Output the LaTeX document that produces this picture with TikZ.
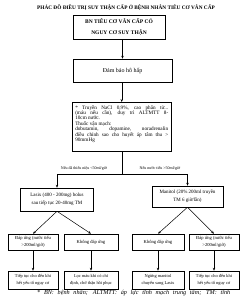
\documentclass[tikz,border=0pt]{standalone}
\usepackage{fontspec}
\setmainfont{Liberation Serif}
\usetikzlibrary{arrows.meta}
\begin{document}
\begin{tikzpicture}[x=1pt,y=-1pt,
  box/.style={draw=black, line width=0.5pt, inner sep=0pt, align=center},
  arr/.style={line width=0.5pt, -{Stealth[length=3pt,width=2.4pt]}},
  ln/.style={line width=0.5pt},
  lbl/.style={inner sep=0pt, font=\fontsize{4}{4.5}\selectfont},
  rowa/.style={box, minimum height=16pt, font=\fontsize{4.6}{7}\selectfont},
  rowb/.style={box, minimum height=18pt, font=\fontsize{4.4}{6.5}\selectfont}]
\fill[white] (0,0) rectangle (245,299);
\useasboundingbox (0,0) rectangle (245,299);

\node[inner sep=0pt, font=\bfseries\fontsize{5.3}{6}\selectfont] (title) at (126,7.5)
  {PHÁC ĐỒ ĐIỀU TRỊ SUY THẬN CẤP Ở BỆNH NHÂN TIÊU CƠ VÂN CẤP};

\node[box, minimum width=92pt, minimum height=24pt, font=\bfseries\fontsize{5.5}{11}\selectfont] (b1) at (119,27)
  {BN TIÊU CƠ VÂN CẤP CÓ\\NGUY CƠ SUY THẬN};
\node[box, minimum width=99pt, minimum height=23pt, font=\fontsize{6}{7}\selectfont] (b2) at (122.5,70.5)
  {Đảm bảo hô hấp};
\node[draw=black, line width=0.5pt, inner sep=3pt, anchor=north west, font=\fontsize{5.2}{5.4}\selectfont] (b3) at (72,102)
  {\parbox[c][43pt][t]{93pt}{* Truyền NaCl 0,9\%, cao phân tử...\linebreak
  (máu nếu cần), duy trì ALTMTT 8-\linebreak
  10cm nước.\\
  * Thuốc vận mạch:\\
  dobutamin, dopamine, noradrenalin\linebreak
  điều chỉnh sao cho huyết áp tâm thu >\linebreak
  90mmHg}};

\node[box, minimum width=73pt, minimum height=23pt, font=\fontsize{5}{8.5}\selectfont] (lasix) at (57,199.5)
  {Lasix (400 - 200mg) bolus\\sau tiếp tục 20-40mg TM};
\node[box, minimum width=71pt, minimum height=21pt, font=\fontsize{5}{8}\selectfont] (mani) at (187.5,196.5)
  {Manitol (20\% 200ml truyền\\TM 6 giờ/lần)};

\node[lbl] (lblL) at (84,168) {Nếu đã thiểu niệu <50ml/giờ};
\node[lbl] (lblR) at (160,168) {Nếu nước tiểu >50ml/giờ};

\node[rowa, minimum width=50pt] (a1) at (33,242) {Đáp ứng (nước tiểu\\>200ml/giờ)};
\node[rowa, minimum width=54pt] (a2) at (91,242) {Không đáp ứng};
\node[rowa, minimum width=52pt] (a3) at (158,242) {Không đáp ứng};
\node[rowa, minimum width=50pt] (a4) at (214,242) {Đáp ứng (nước tiểu\\>200ml/giờ)};

\node[rowb, minimum width=50pt] (c1) at (33,280) {Tiếp tục cho đến khi\\hết yếu tố nguy cơ};
\node[rowb, minimum width=54pt] (c2) at (91,280) {Lọc máu khi có chỉ\\định, chờ thận hồi phục};
\node[rowb, minimum width=52pt] (c3) at (158,280) {Ngừng manitol\\chuyển sang Lasix};
\node[rowb, minimum width=50pt] (c4) at (214,280) {Tiếp tục cho đến khi\\hết yếu tố nguy cơ};

\node[inner sep=0pt, anchor=west, font=\itshape\fontsize{6.2}{7}\selectfont] (foot) at (37,293.5)
  {\makebox[193pt][s]{* BN: bệnh nhân; ALTMTT: áp lực tĩnh mạch trung tâm; TM: tĩnh}};

\draw[arr] (b1.south -| b2.north) -- (b2.north);
\draw[arr] (b2.south -| b3.north) -- (b3.north);
\coordinate (j) at (b3.south |- 0,174);
\draw[ln] (b3.south) -- (j);
\draw[ln] (lasix.north |- j) -- (mani.north |- j);
\draw[arr] (lasix.north |- j) -- (lasix.north);
\draw[arr] (mani.north |- j) -- (mani.north);

\draw[arr] (lasix.south) -- (a1.north);
\draw[arr] (lasix.south) -- (a2.north);
\draw[arr] (mani.south) -- (a3.north);
\draw[arr] (mani.south) -- (a4.north);

\draw[arr] (a1) -- (c1);
\draw[arr] (a2) -- (c2);
\draw[arr] (a3) -- (c3);
\draw[arr] (a4) -- (c4);
\end{tikzpicture}
\end{document}
